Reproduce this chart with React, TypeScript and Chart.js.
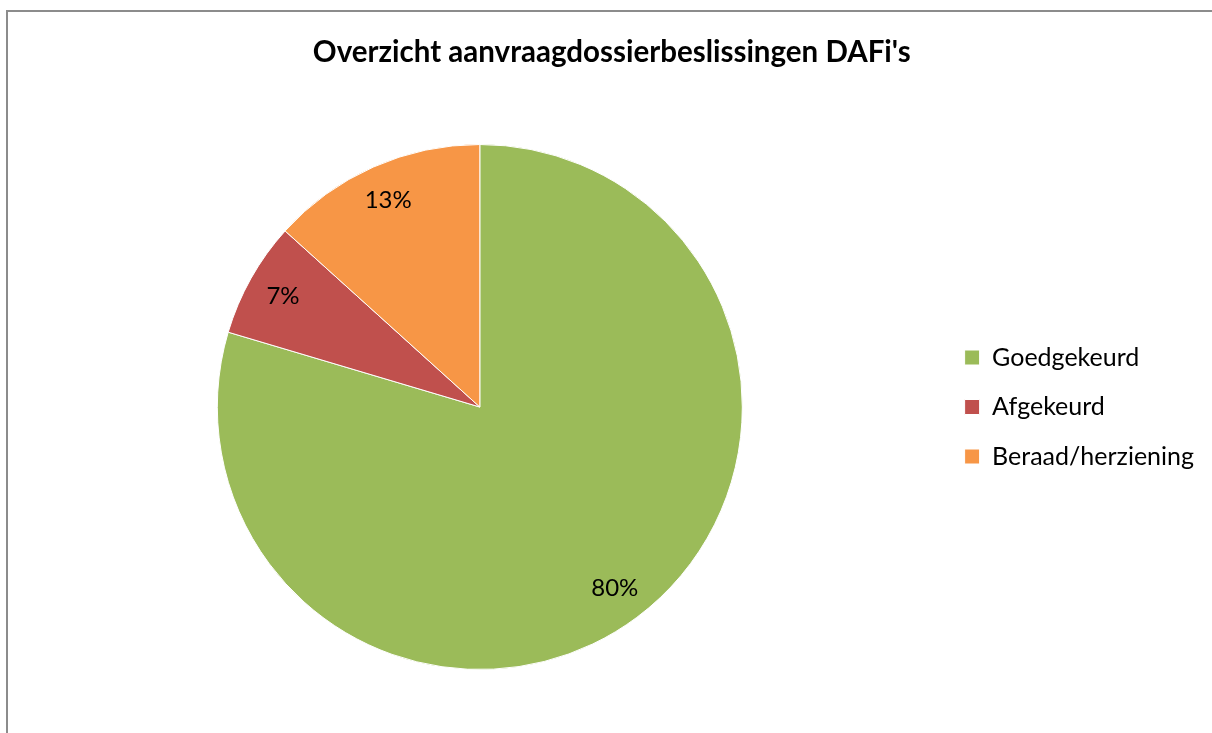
import React, { useEffect, useRef } from "react";
import { Chart, registerables } from "chart.js";

Chart.register(...registerables);

const TITLE = "Overzicht aanvraagdossierbeslissingen DAFi's";
const categories = ["Goedgekeurd", "Afgekeurd", "Beraad/herziening"];
const shares = [79.6, 7.1, 13.3];
const colors = ["#9BBB59", "#C0504D", "#F79646"];

const FONT = "Lato, 'Open Sans', sans-serif";

const frame = {
  id: "frame",
  beforeDraw(chart: any) {
    const ctx = chart.ctx;
    ctx.save();
    ctx.fillStyle = "#ffffff";
    ctx.fillRect(0, 0, chart.width, chart.height);
    ctx.strokeStyle = "#8c8c8c";
    ctx.lineWidth = 2;
    ctx.strokeRect(7, 11, chart.width + 20, chart.height + 20);
    ctx.restore();
  },
};

const sliceLabels = {
  id: "sliceLabels",
  afterDatasetsDraw(chart: any) {
    const ctx = chart.ctx;
    const meta = chart.getDatasetMeta(0);
    const data = chart.data.datasets[0].data as number[];
    const total = data.reduce((a: number, b: number) => a + b, 0);
    ctx.save();
    ctx.fillStyle = "#000000";
    ctx.font = `24px ${FONT}`;
    ctx.textAlign = "center";
    ctx.textBaseline = "middle";
    meta.data.forEach((arc: any, i: number) => {
      const { x, y, startAngle, endAngle, outerRadius } = arc.getProps(
        ["x", "y", "startAngle", "endAngle", "outerRadius"],
        true
      );
      const mid = (startAngle + endAngle) / 2;
      const d = outerRadius * 0.86;
      const txt = Math.round((data[i] / total) * 100) + "%";
      ctx.fillText(txt, x + Math.cos(mid) * d, y + Math.sin(mid) * d);
    });
    ctx.restore();
  },
};

export default function App() {
  const ref = useRef<HTMLCanvasElement | null>(null);
  useEffect(() => {
    if (!ref.current) return;
    const chart = new Chart(ref.current, {
      type: "pie",
      data: {
        labels: categories,
        datasets: [
          {
            data: shares,
            backgroundColor: colors,
            borderColor: "#ffffff",
            borderWidth: 1,
          },
        ],
      },
      options: {
        responsive: false,
        animation: false,
        layout: { padding: { left: 19.5, right: 8, top: 0, bottom: 63 } },
        plugins: {
          title: {
            display: true,
            text: TITLE,
            color: "#000000",
            font: { family: FONT, size: 29.5, weight: "bold", lineHeight: 1.2 },
            padding: { top: 34.3, bottom: 74.3 },
          },
          legend: {
            position: "right",
            fullSize: false,
            labels: {
              color: "#000000",
              font: { family: FONT, size: 25 },
              boxWidth: 15,
              boxHeight: 15,
              padding: 24.5,
            },
          },
          tooltip: { enabled: false },
        },
      },
      plugins: [frame, sliceLabels],
    });
    return () => chart.destroy();
  }, []);
  return (
    <div style={{ position: "fixed", left: 0, top: 0, width: 1212, height: 733 }}>
      <canvas ref={ref} width={1212} height={733} style={{ display: "block" }} />
    </div>
  );
}
